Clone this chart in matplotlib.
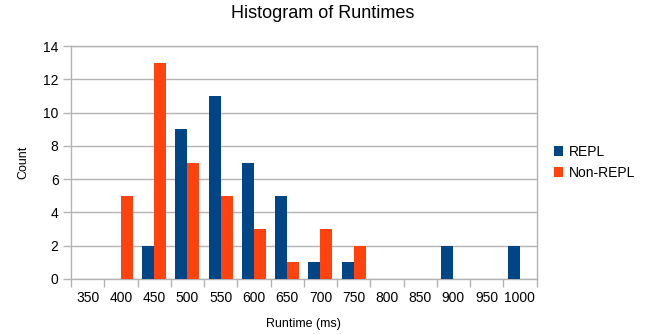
import numpy as np
import matplotlib
matplotlib.use("Agg")
from matplotlib import pyplot as plt

plt.rcParams['font.family'] = ['Liberation Sans', 'DejaVu Sans']

bins = ['350', '400', '450', '500', '550', '600', '650', '700',
        '750', '800', '850', '900', '950', '1000']
repl = [0, 0, 2, 9, 11, 7, 5, 1, 1, 0, 0, 2, 0, 2]
non_repl = [0, 5, 13, 7, 5, 3, 1, 3, 2, 0, 0, 0, 0, 0]

cor_repl = '#004586'
cor_non = '#ff420e'
cinza = '#b3b3b3'

fig = plt.figure(figsize=(6.46, 3.34), dpi=100)
ax = fig.add_axes([71/646, 1 - 279/334, 465.5/646, 233/334])

x = np.arange(len(bins))
w = 0.36
ax.bar(x - w/2, repl, w, color=cor_repl, label='REPL', zorder=3)
ax.bar(x + w/2, non_repl, w, color=cor_non, label='Non-REPL', zorder=3)

ax.set_xlim(-0.5, len(bins) - 0.5)
ax.set_ylim(0, 14)
ax.set_yticks(range(0, 15, 2))
ax.yaxis.grid(True, color=cinza, linewidth=1, zorder=0)

# ticks nas bordas das categorias, rótulos no centro
ax.set_xticks(np.arange(len(bins) + 1) - 0.5)
ax.set_xticklabels([])
ax.set_xticks(x, minor=True)
ax.set_xticklabels(bins, minor=True)
ax.tick_params(axis='x', which='major', length=6, color=cinza, width=1)
ax.tick_params(axis='x', which='minor', length=0, pad=9, labelsize=10)
ax.tick_params(axis='y', length=6, color=cinza, width=1, labelsize=10, pad=3)

for s in ax.spines.values():
    s.set_color(cinza)
    s.set_linewidth(1)

ax.set_xlabel('Runtime (ms)', fontsize=9, labelpad=9)
ax.set_ylabel('Count', fontsize=9, labelpad=10)
fig.suptitle('Histogram of Runtimes', fontsize=13, y=0.985)

ax.legend(loc='center left', bbox_to_anchor=(1.01, 0.5), frameon=False,
          fontsize=10, handlelength=0.7, handleheight=0.7, handletextpad=0.4,
          labelspacing=0.5)

plt.savefig('out.png', dpi=100)
